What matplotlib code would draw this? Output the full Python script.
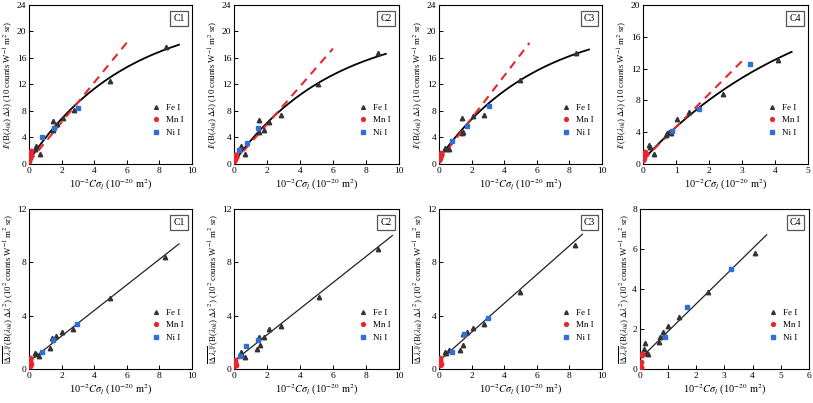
import numpy as np
import matplotlib
matplotlib.use("Agg")
import matplotlib.pyplot as plt

plt.rcParams['font.family'] = ['Liberation Serif', 'DejaVu Serif']
plt.rcParams['mathtext.fontset'] = 'stix'

names = ["C1", "C2", "C3", "C4"]

# ---- top row: intensity ----
fe_x_top = [
    [0.37, 0.41, 0.67, 1.45, 1.49, 1.73, 2.1, 2.73, 4.96, 8.39],
    [0.36, 0.40, 0.66, 1.50, 1.53, 1.80, 2.1, 2.83, 5.12, 8.7],
    [0.35, 0.43, 0.63, 1.39, 1.43, 1.49, 2.07, 2.76, 4.97, 8.38],
    [0.18, 0.20, 0.32, 0.68, 0.72, 0.80, 0.85, 1.02, 1.40, 2.42, 4.10],
]
fe_y_top = [
    [2.3, 2.66, 1.55, 6.5, 5.2, 6.0, 6.9, 8.1, 12.5, 17.7],
    [2.3, 2.66, 1.5, 6.6, 4.8, 5.1, 6.3, 7.4, 12.1, 16.7],
    [2.4, 2.26, 2.3, 4.7, 7.0, 4.8, 7.3, 7.4, 12.7, 16.8],
    [2.34, 2.1, 1.25, 3.6, 3.9, 4.0, 3.9, 5.6, 6.5, 8.8, 13.1],
]
mn_x_top = [
    [0.02, 0.04, 0.06, 0.08, 0.10, 0.12],
    [0.02, 0.04, 0.06, 0.08, 0.10, 0.12],
    [0.02, 0.04, 0.06, 0.09, 0.12, 0.15],
    [0.01, 0.02, 0.03, 0.05, 0.06, 0.08],
]
mn_y_top = [
    [0.5, 0.9, 1.4, 1.8, 1.9, 1.3],
    [0.4, 0.7, 1.0, 1.3, 1.4, 1.1],
    [0.6, 0.9, 1.2, 1.5, 1.6, 1.3],
    [0.5, 0.8, 1.1, 1.4, 1.5, 1.2],
]
ni_x_top = [
    [0.82, 1.55, 2.98],
    [0.32, 0.76, 1.43],
    [0.82, 1.70, 3.05],
    [0.88, 1.68, 3.25],
]
ni_y_top = [
    [4.0, 5.5, 8.5],
    [2.1, 3.2, 5.4],
    [3.5, 5.8, 8.8],
    [4.1, 6.9, 12.6],
]
# saturating fit y = y0 + A*(1-exp(-x/B)), drawn up to xmax
fit_y0 = [0.5, 0.3, 0.8, 0.5]
fit_A = [22.3, 20.8, 21.0, 22.9]
fit_B = [6.0, 6.0, 6.0, 5.0]
fit_xmax = [9.2, 9.2, 9.2, 4.5]
# linear (red dashed) fit
lin_b = [0.3, 0.3, 0.5, 0.5]
lin_m = [3.0, 2.85, 3.2, 4.15]
lin_xmax = [6.1, 6.0, 5.55, 3.05]
top_xlim = [10, 10, 10, 5]
top_ylim = [24, 24, 24, 20]
top_yticks = [[0, 4, 8, 12, 16, 20, 24]] * 3 + [[0, 4, 8, 12, 16, 20]]

# ---- bottom row: shift ----
fe_x_bot = [
    [0.35, 0.45, 0.60, 1.30, 1.40, 1.65, 2.05, 2.70, 4.95, 8.35],
    [0.40, 0.42, 0.65, 1.40, 1.50, 1.60, 1.80, 2.15, 2.85, 5.15, 8.75],
    [0.35, 0.45, 0.60, 1.30, 1.45, 1.50, 1.70, 2.10, 2.75, 4.95, 8.35],
    [0.15, 0.20, 0.25, 0.30, 0.68, 0.72, 0.82, 1.00, 1.40, 2.42, 4.10],
]
fe_y_bot = [
    [1.2, 1.1, 1.0, 1.55, 2.3, 2.5, 2.8, 3.0, 5.3, 8.4],
    [1.3, 1.1, 0.9, 1.5, 2.4, 1.8, 2.4, 3.0, 3.2, 5.4, 9.0],
    [1.3, 1.2, 1.4, 1.4, 2.6, 1.8, 2.8, 3.1, 3.4, 5.8, 9.3],
    [1.0, 1.3, 0.8, 0.75, 1.35, 1.6, 1.85, 2.15, 2.6, 3.85, 5.8],
]
mn_x_bot = [
    [0.03, 0.05, 0.06, 0.08, 0.10],
    [0.03, 0.05, 0.07, 0.08, 0.10],
    [0.03, 0.05, 0.07, 0.08, 0.10],
    [0.03, 0.05, 0.06, 0.08],
]
mn_y_bot = [
    [0.2, 0.8, 0.75, 0.6, 0.4],
    [0.2, 0.7, 0.5, 0.4, 0.3],
    [0.3, 0.8, 0.7, 0.5, 0.4],
    [0.1, 0.35, 0.7, 0.75],
]
ni_x_bot = [
    [0.80, 1.50, 2.95],
    [0.35, 0.75, 1.45],
    [0.80, 1.55, 3.00],
    [0.88, 1.68, 3.25],
]
ni_y_bot = [
    [1.3, 2.15, 3.4],
    [1.0, 1.7, 2.2],
    [1.3, 2.6, 3.8],
    [1.6, 3.1, 5.0],
]
line_b = [0.55, 0.6, 0.6, 0.5]
line_m = [0.96, 0.98, 1.08, 1.38]
line_xmax = [9.2, 9.6, 8.8, 4.5]
bot_xlim = [10, 10, 10, 6]
bot_ylim = [12, 12, 12, 8]
bot_yticks = [[0, 4, 8, 12]] * 3 + [[0, 2, 4, 6, 8]]

top_pos = [[0.0357, 0.593, 0.2005, 0.395], [0.2878, 0.593, 0.203, 0.395],
           [0.540, 0.593, 0.2005, 0.395], [0.791, 0.593, 0.203, 0.395]]
bot_pos = [[0.0357, 0.0844, 0.2005, 0.397], [0.2878, 0.0844, 0.203, 0.397],
           [0.540, 0.0844, 0.2005, 0.397], [0.787, 0.0844, 0.208, 0.397]]

xlabel = r"10$^{-2}$$C\sigma_l$ (10$^{-20}$ m$^2$)"
ylabel_top = r"$I$/(B($\lambda_{0k}$) $\Delta\lambda$) (10 counts W$^{-1}$ m$^2$ sr)"
ylabel_bot = r"$\overline{|\Delta\lambda_c|}$/(B($\lambda_{0k}$) $\Delta\lambda^2$) (10$^2$ counts W$^{-1}$ m$^2$ sr)"

blue = "#2f6fd6"
red = "#e8262b"


def style_axes(ax, name, xmax, ymax, yticks, ylab):
    ax.set_xlim(0, xmax)
    ax.set_ylim(0, ymax)
    ax.set_yticks(yticks)
    step = 2 if xmax == 10 else 1
    ax.set_xticks(np.arange(0, xmax + 0.1, step))
    ax.tick_params(direction='in', length=3, width=0.7, labelsize=6.8, pad=2)
    for s in ax.spines.values():
        s.set_linewidth(0.8)
    ax.set_xlabel(xlabel, fontsize=7.5, labelpad=2)
    ax.set_ylabel(ylab, fontsize=6.3, labelpad=1)
    ax.text(0.955, 0.945, name, transform=ax.transAxes, ha='right', va='top',
            fontsize=7, bbox=dict(boxstyle='square,pad=0.3', fc='white',
                                  ec='#555555', lw=0.9))
    ax.legend(loc='lower right', bbox_to_anchor=(1.0, 0.12), frameon=False,
              fontsize=6.5, handlelength=1.0, handletextpad=0.6,
              labelspacing=0.45, markerscale=0.85)


fig = plt.figure(figsize=(8.13, 4.03), dpi=100)

for i in range(4):
    ax = fig.add_axes(top_pos[i])
    xs = np.linspace(0, fit_xmax[i], 200)
    ax.plot(xs, fit_y0[i] + fit_A[i] * (1 - np.exp(-xs / fit_B[i])),
            color='black', lw=1.3, zorder=2)
    xl = np.array([0, lin_xmax[i]])
    ax.plot(xl, lin_b[i] + lin_m[i] * xl, color=red, lw=1.5,
            dashes=(4, 3), zorder=3)
    ax.plot(fe_x_top[i], fe_y_top[i], '^', color='#333333', ms=3.2,
            ls='none', label='Fe I', zorder=4)
    ax.plot(mn_x_top[i], mn_y_top[i], 'o', color=red, ms=3.2,
            ls='none', label='Mn I', zorder=4)
    ax.plot(ni_x_top[i], ni_y_top[i], 's', color=blue, ms=3.0,
            ls='none', label='Ni I', zorder=4)
    style_axes(ax, names[i], top_xlim[i], top_ylim[i], top_yticks[i], ylabel_top)

for i in range(4):
    ax = fig.add_axes(bot_pos[i])
    xl = np.array([0, line_xmax[i]])
    ax.plot(xl, line_b[i] + line_m[i] * xl, color='#222222', lw=0.9, zorder=2)
    ax.plot(fe_x_bot[i], fe_y_bot[i], '^', color='#333333', ms=3.2,
            ls='none', label='Fe I', zorder=4)
    ax.plot(mn_x_bot[i], mn_y_bot[i], 'o', color=red, ms=3.2,
            ls='none', label='Mn I', zorder=4)
    ax.plot(ni_x_bot[i], ni_y_bot[i], 's', color=blue, ms=3.0,
            ls='none', label='Ni I', zorder=4)
    style_axes(ax, names[i], bot_xlim[i], bot_ylim[i], bot_yticks[i], ylabel_bot)

fig.savefig("out.png", dpi=100)
